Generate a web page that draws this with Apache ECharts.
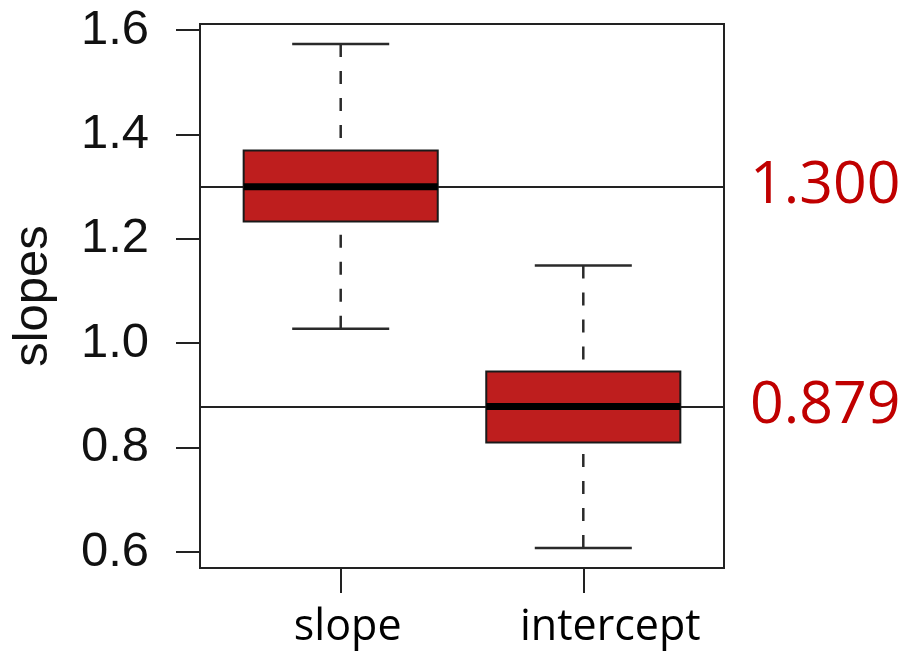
<!DOCTYPE html>
<html>
<head>
<meta charset="utf-8">
<script src="https://cdn.jsdelivr.net/npm/echarts@6/dist/echarts.min.js"></script>
<style>
html,body{margin:0;padding:0;background:#fff;}
#chart{width:905px;height:660px;}
</style>
</head>
<body>
<div id="chart"></div>
<script>
// Data
const categories = ['slope', 'intercept'];
const categoryPositions = [1, 2];
const whiskerLow  = [1.028, 0.608];
const quartile1   = [1.233, 0.810];
const medians     = [1.300, 0.879];
const quartile3   = [1.369, 0.946];
const whiskerHigh = [1.573, 1.149];
const referenceLines = [1.300, 0.879];
const yTicks = [0.6, 0.8, 1.0, 1.2, 1.4, 1.6];

const boxData = categories.map((c, i) => [categoryPositions[i], whiskerLow[i], quartile1[i], medians[i], quartile3[i], whiskerHigh[i]]);

const chart = echarts.init(document.getElementById('chart'), null, {renderer: 'canvas'});

const BOX_HALF = 0.4, CAP_HALF = 0.2;
function renderItem(params, api) {
  const x = api.value(0);
  const lo = api.coord([x, api.value(1)]);
  const q1 = api.coord([x, api.value(2)]);
  const md = api.coord([x, api.value(3)]);
  const q3 = api.coord([x, api.value(4)]);
  const hi = api.coord([x, api.value(5)]);
  const left = api.coord([x - BOX_HALF, api.value(3)])[0];
  const right = api.coord([x + BOX_HALF, api.value(3)])[0];
  const cl = api.coord([x - CAP_HALF, api.value(3)])[0];
  const cr = api.coord([x + CAP_HALF, api.value(3)])[0];
  const cx = md[0];
  const wStyle = {stroke: '#2a2a2a', lineWidth: 2.5, lineDash: [13, 14], fill: null};
  const cStyle = {stroke: '#2a2a2a', lineWidth: 2.5, fill: null};
  return {
    type: 'group',
    children: [
      {type: 'line', shape: {x1: cx, y1: hi[1], x2: cx, y2: q3[1]}, style: wStyle},
      {type: 'line', shape: {x1: cx, y1: lo[1], x2: cx, y2: q1[1]}, style: wStyle},
      {type: 'line', shape: {x1: cl, y1: hi[1], x2: cr, y2: hi[1]}, style: cStyle},
      {type: 'line', shape: {x1: cl, y1: lo[1], x2: cr, y2: lo[1]}, style: cStyle},
      {type: 'rect', shape: {x: left, y: q3[1], width: right - left, height: q1[1] - q3[1]},
        style: {fill: '#BE1E1E', stroke: '#1a1a1a', lineWidth: 2}},
      {type: 'line', shape: {x1: left, y1: md[1], x2: right, y2: md[1]}, style: {stroke: '#000', lineWidth: 7}}
    ]
  };
}

const option = {
  animation: false,
  backgroundColor: '#fff',
  grid: {left: 200, right: 181, top: 24, bottom: 92, show: true, borderColor: '#222', borderWidth: 2, backgroundColor: 'transparent'},
  xAxis: {
    type: 'value', min: 0.42, max: 2.58,
    splitLine: {show: false},
    axisLine: {show: true, lineStyle: {color: '#222', width: 2}},
    axisTick: {show: true, customValues: categoryPositions, length: 25, lineStyle: {color: '#222', width: 2}},
    axisLabel: {
      show: true, customValues: categoryPositions, margin: 38,
      formatter: function (v) { const i = categoryPositions.indexOf(v); return '{c' + i + '|' + categories[i] + '}'; },
      rich: {
        c0: {fontFamily: 'Open Sans', fontSize: 43, color: '#000', padding: [0, 0, 0, 14]},
        c1: {fontFamily: 'Open Sans', fontSize: 43, color: '#000', padding: [0, 0, 0, 54]}
      }
    }
  },
  yAxis: {
    type: 'value', min: 0.5695, max: 1.6115,
    name: 'slopes', nameLocation: 'middle', nameGap: 142,
    nameTextStyle: {fontFamily: 'Liberation Sans', fontSize: 49, color: '#111'},
    splitLine: {show: false},
    axisLine: {show: true, lineStyle: {color: '#222', width: 2}},
    axisTick: {show: true, customValues: yTicks, length: 24, lineStyle: {color: '#222', width: 2}},
    axisLabel: {show: true, customValues: yTicks, margin: 51, fontFamily: 'Liberation Sans', fontSize: 49, color: '#111',
      formatter: function (v) { return v.toFixed(1); }}
  },
  series: [{
    type: 'custom',
    renderItem: renderItem,
    encode: {x: 0, y: [1, 2, 3, 4, 5]},
    data: boxData,
    silent: true,
    z: 3,
    markLine: {
      silent: true,
      symbol: ['none', 'none'],
      z: 2,
      precision: 3,
      lineStyle: {color: '#222', width: 2, type: 'solid'},
      label: {show: true, position: 'end', distance: 26, color: '#C00000', fontFamily: 'Open Sans', fontSize: 59,
        formatter: function (p) { return p.name; }},
      data: referenceLines.map(v => ({yAxis: v, name: v.toFixed(3)}))
    }
  }]
};
chart.setOption(option);
</script>
</body>
</html>
